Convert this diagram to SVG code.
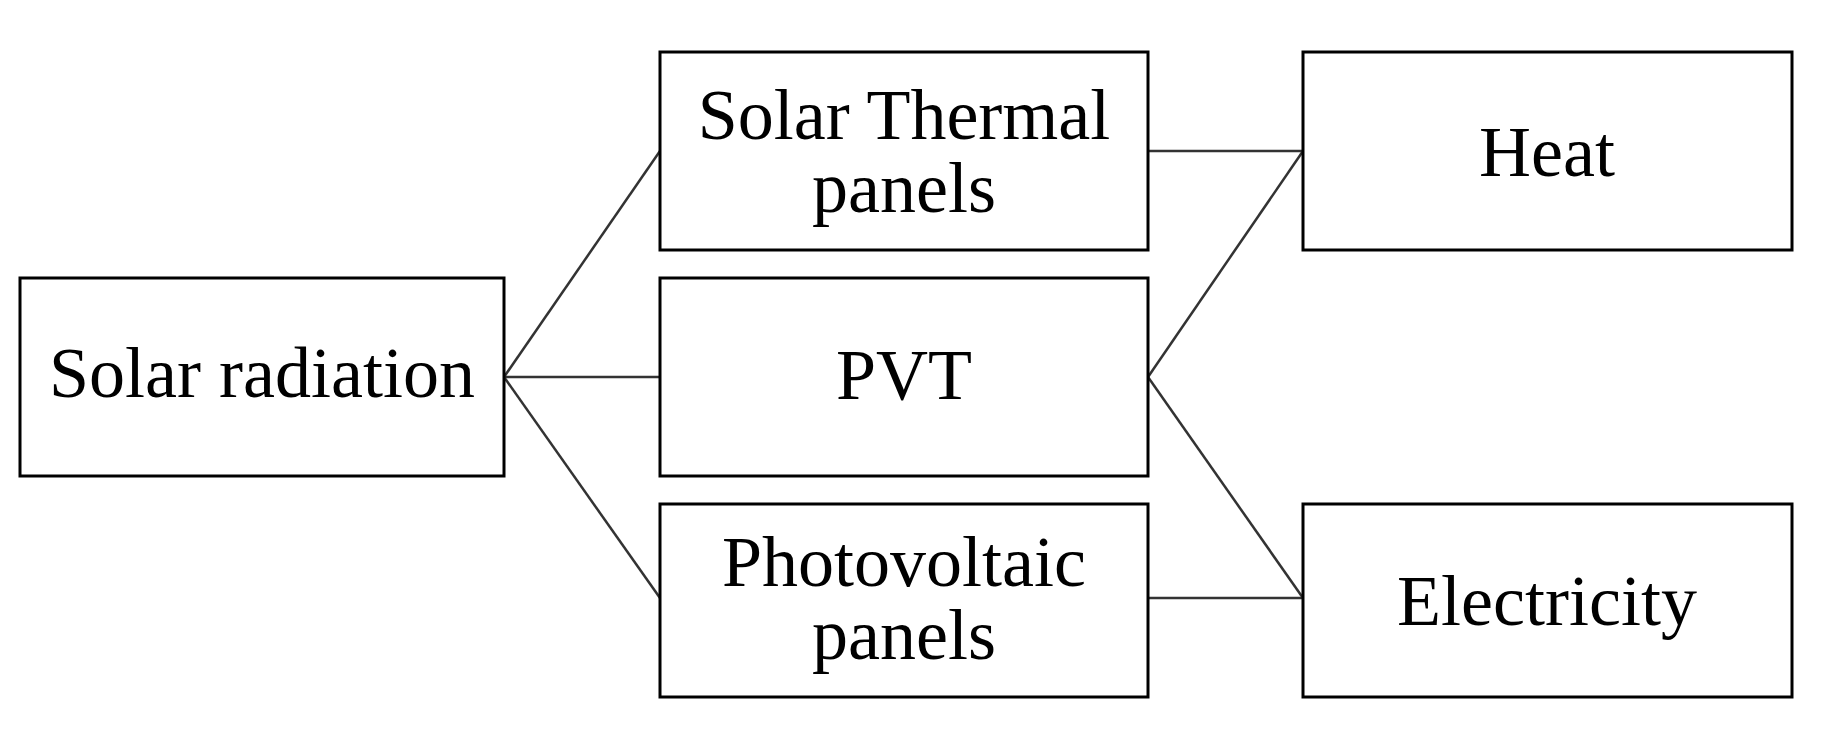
<svg xmlns="http://www.w3.org/2000/svg" width="1840" height="736" viewBox="0 0 1840 736">
<style>
rect{fill:#fff;stroke:#000;stroke-width:3}
text{font-family:"Liberation Serif","Times New Roman",serif;font-size:72px;fill:#000;text-anchor:middle}
#connectors line{stroke:#333;stroke-width:2.5}
</style>
<rect x="0" y="0" width="1840" height="736" style="stroke:none"/>
<g id="connectors">
<line x1="504" y1="377" x2="660" y2="151"/>
<line x1="504" y1="377" x2="660" y2="377"/>
<line x1="504" y1="377" x2="660" y2="598"/>
<line x1="1148" y1="151" x2="1303" y2="151"/>
<line x1="1148" y1="377" x2="1303" y2="151"/>
<line x1="1148" y1="377" x2="1303" y2="598"/>
<line x1="1148" y1="598" x2="1303" y2="598"/>
</g>
<g id="solar-radiation"><rect x="20" y="278" width="484" height="198"/><text x="262" y="397">Solar radiation</text></g>
<g id="solar-thermal"><rect x="660" y="52" width="488" height="198"/><text x="904" y="139">Solar Thermal</text><text x="904" y="212">panels</text></g>
<g id="pvt"><rect x="660" y="278" width="488" height="198"/><text x="904" y="399">PVT</text></g>
<g id="photovoltaic"><rect x="660" y="504" width="488" height="193"/><text x="904" y="586">Photovoltaic</text><text x="904" y="659">panels</text></g>
<g id="heat"><rect x="1303" y="52" width="489" height="198"/><text x="1547" y="176">Heat</text></g>
<g id="electricity"><rect x="1303" y="504" width="489" height="193"/><text x="1547" y="625">Electricity</text></g>
</svg>
